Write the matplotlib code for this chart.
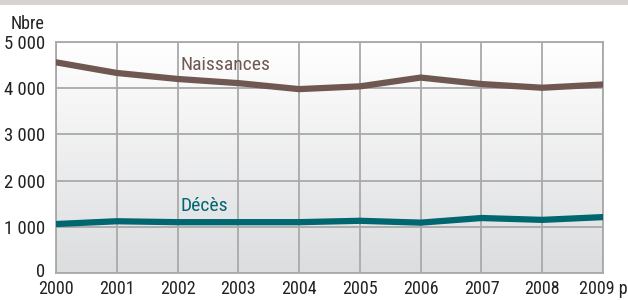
import matplotlib
matplotlib.use("Agg")
import matplotlib.pyplot as plt
import numpy as np
from matplotlib import font_manager
from matplotlib.colors import LinearSegmentedColormap
import matplotlib.transforms as mtrans

years = [2000, 2001, 2002, 2003, 2004, 2005, 2006, 2007, 2008, 2009]
year_labels = ["2000", "2001", "2002", "2003", "2004", "2005", "2006", "2007", "2008", "2009 p"]
naissances = [4560, 4330, 4200, 4110, 3980, 4040, 4230, 4090, 4010, 4080]
deces = [1060, 1120, 1100, 1100, 1100, 1130, 1090, 1190, 1150, 1210]
yticks = [0, 1000, 2000, 3000, 4000, 5000]
ytick_labels = ["0", "1 000", "2 000", "3 000", "4 000", "5 000"]

names = {f.name for f in font_manager.fontManager.ttflist}
fam = "Liberation Sans"
for cand in ["Roboto Condensed", "Liberation Sans Narrow", "Archivo Narrow", "Asap Condensed"]:
    if cand in names:
        fam = cand
        break
plt.rcParams['font.family'] = [fam, 'DejaVu Sans']

W, H = 628, 300
fig = plt.figure(figsize=(W/100, H/100), dpi=100)
fig.patch.set_facecolor("white")

# top band
band = fig.add_axes([0, 1 - 5/H, 1, 5/H])
band.set_facecolor("#d8d3ce")
band.set_xticks([]); band.set_yticks([])
for s in band.spines.values():
    s.set_visible(False)

x0, x1 = 56, 603
y_top, y_bot = 42, 273
ax = fig.add_axes([x0/W, 1 - y_bot/H, (x1 - x0)/W, (y_bot - y_top)/H])
ax.set_xlim(years[0], years[-1])
ax.set_ylim(0, 5000)

grad = np.linspace(0, 1, 256).reshape(-1, 1)
cmap = LinearSegmentedColormap.from_list("g", ["#dcdddf", "#ffffff"])
ax.imshow(grad, extent=[years[0], years[-1], 0, 5000], origin="lower",
          aspect="auto", cmap=cmap, zorder=0)

ax.set_xticks(years)
ax.set_xticklabels(year_labels)
ax.set_yticks(yticks)
ax.set_yticklabels(ytick_labels)
ax.grid(True, color="#a9a9a9", linewidth=1.3, zorder=1)
ax.tick_params(axis="y", length=0, labelsize=13.5, colors="#222222", pad=8)
ax.tick_params(axis="x", length=0, labelsize=13, colors="#222222", pad=5)
for s in ax.spines.values():
    s.set_color("#a9a9a9")
    s.set_linewidth(1.3)
for lbl in ax.get_yticklabels():
    lbl.set_va("center_baseline")
zero = ax.get_yticklabels()[0]
zero.set_transform(zero.get_transform() + mtrans.ScaledTranslation(0, 3/100, fig.dpi_scale_trans))

ax.plot(years, naissances, color="#6e5851", linewidth=4.5, solid_capstyle="round", zorder=3)
ax.plot(years, deces, color="#00666f", linewidth=4.5, solid_capstyle="round", zorder=3)

ax.text(2002.05, 4390, "Naissances", color="#6e5851", fontsize=14, ha="left", va="baseline")
ax.text(2002.05, 1340, "Décès", color="#00666f", fontsize=14, ha="left", va="baseline")

fig.text(45/W, 1 - 29/H, "Nbre", fontsize=13, ha="right", va="baseline", color="#222222")

lbl = ax.get_xticklabels()[-1]
lbl.set_ha("left")
lbl.set_transform(lbl.get_transform() + mtrans.ScaledTranslation(-24/100, 0, fig.dpi_scale_trans))

fig.savefig("out.png", dpi=100)
